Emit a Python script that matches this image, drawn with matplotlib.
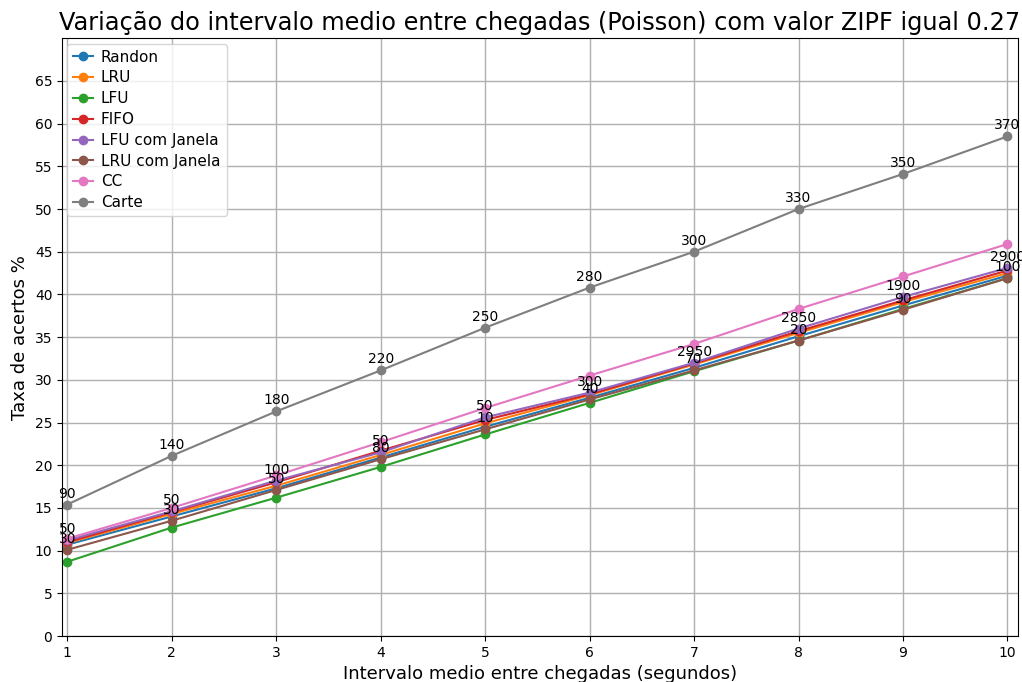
import numpy as np
import matplotlib
matplotlib.use('Agg')
from matplotlib import pyplot as plt

## Data ----------------------------------------------------------------------
intervalos = [1, 2, 3, 4, 5, 6, 7, 8, 9, 10]

randon = [10.7, 14.0, 17.3, 20.9, 24.5, 27.9, 31.4, 35.1, 38.7, 42.2]
lru = [10.9, 14.3, 17.6, 21.2, 24.9, 28.2, 31.8, 35.5, 39.1, 42.5]
lfu = [8.7, 12.7, 16.2, 19.8, 23.6, 27.3, 31.0, 34.6, 38.3, 41.9]
fifo = [11.0, 14.5, 18.0, 21.7, 25.3, 28.3, 31.9, 35.7, 39.3, 42.8]
lfu_janela = [11.2, 14.6, 18.2, 21.5, 25.6, 28.5, 32.0, 36.0, 39.7, 43.1]
lru_janela = [10.1, 13.5, 17.1, 20.7, 24.2, 27.7, 31.1, 34.6, 38.2, 41.9]
cc = [11.4, 15.0, 18.8, 22.7, 26.7, 30.5, 34.2, 38.3, 42.1, 45.9]
carte = [15.4, 21.1, 26.3, 31.1, 36.1, 40.8, 45.0, 50.0, 54.1, 58.5]

# parametros anotados em cada ponto
rot_carte = [90, 140, 180, 220, 250, 280, 300, 330, 350, 370]
rot_lfu_janela = [50, 50, 100, 50, 50, 300, 2950, 2850, 1900, 2900]
rot_lru_janela = [30, 30, 50, 80, 10, 40, 70, 20, 90, 100]

series = [("Randon", randon), ("LRU", lru), ("LFU", lfu), ("FIFO", fifo),
          ("LFU com Janela", lfu_janela), ("LRU com Janela", lru_janela),
          ("CC", cc), ("Carte", carte)]

## Plot ----------------------------------------------------------------------
fig, ax = plt.subplots(figsize=(10.22, 6.82), dpi=100)
fig.subplots_adjust(left=0.0607, right=0.996, top=0.944, bottom=0.0674)

for nome, valores in series:
    ax.plot(intervalos, valores, marker='o', markersize=6, label=nome)

def anotar(valores, rotulos):
    for x, y, r in zip(intervalos, valores, rotulos):
        ax.annotate(str(r), (x, y), textcoords='offset points', xytext=(0, 5),
                    ha='center', fontsize=10)

anotar(carte, rot_carte)
anotar(lfu_janela, rot_lfu_janela)
anotar(lru_janela, rot_lru_janela)

ax.set_xlim(0.95, 10.1)
ax.set_ylim(0, 70)
ax.set_xticks(intervalos)
ax.set_yticks(np.arange(0, 70, 5))
ax.grid(True, linewidth=1)

ax.set_title('Variação do intervalo medio entre chegadas (Poisson) com valor ZIPF igual 0.27', fontsize=17.3)
ax.set_xlabel('Intervalo medio entre chegadas (segundos)', fontsize=13)
ax.set_ylabel('Taxa de acertos %', fontsize=13)
ax.legend(loc='upper left', fontsize=11, labelspacing=0.38, handlelength=1.3,
          handletextpad=0.5, borderaxespad=0.35)

plt.savefig('out.png')
